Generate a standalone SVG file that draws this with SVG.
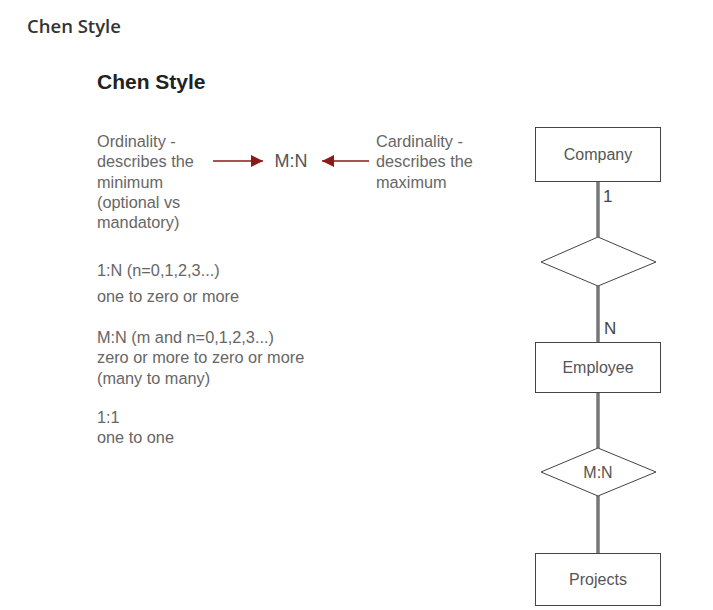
<svg xmlns="http://www.w3.org/2000/svg" width="713" height="610" viewBox="0 0 713 610">
<defs>
<style>
.t{font-family:"Liberation Sans",Arial,sans-serif;font-size:16.3px;fill:#666}
.n{font-family:"Liberation Sans",Arial,sans-serif;font-size:16px;fill:#555;text-anchor:middle;dominant-baseline:central}
.box{fill:#fff;stroke:#444;stroke-width:1}
.conn{stroke:#777;stroke-width:3.5;fill:none}
.arr{stroke:#8b1a1a;stroke-width:1.5;fill:none}
</style>
<marker id="ah" viewBox="0 0 10 10" refX="10" refY="5" markerWidth="18" markerHeight="12" markerUnits="userSpaceOnUse" orient="auto">
<path d="M0,0 L10,5 L0,10 z" fill="#8b1a1a"/>
</marker>
</defs>
<rect width="713" height="610" fill="#fff"/>
<text x="27" y="33" font-family="'Open Sans',sans-serif" font-weight="600" font-size="18.5" fill="#333">Chen Style</text>
<text x="97" y="89" font-family="'Liberation Sans',Arial,sans-serif" font-weight="bold" font-size="21" fill="#222">Chen Style</text>

<g id="notes">
<text class="t" x="97" y="147">Ordinality -</text>
<text class="t" x="97" y="167">describes the</text>
<text class="t" x="97" y="188">minimum</text>
<text class="t" x="97" y="208">(optional vs</text>
<text class="t" x="97" y="228">mandatory)</text>
<text class="t" x="376" y="147">Cardinality -</text>
<text class="t" x="376" y="167">describes the</text>
<text class="t" x="376" y="188">maximum</text>
<text class="t" x="97" y="276">1:N (n=0,1,2,3...)</text>
<text class="t" x="97" y="302">one to zero or more</text>
<text class="t" x="97" y="343">M:N (m and n=0,1,2,3...)</text>
<text class="t" x="97" y="363">zero or more to zero or more</text>
<text class="t" x="97" y="384">(many to many)</text>
<text class="t" x="97" y="423">1:1</text>
<text class="t" x="97" y="443">one to one</text>
<text class="n" x="291" y="161" style="font-size:18px">M:N</text>
</g>

<g id="connectors">
<line class="arr" x1="213" y1="161" x2="263" y2="161" marker-end="url(#ah)"/>
<line class="arr" x1="369" y1="161" x2="322" y2="161" marker-end="url(#ah)"/>
<line class="conn" x1="598" y1="181" x2="598" y2="237"/>
<line class="conn" x1="598" y1="286" x2="598" y2="342"/>
<line class="conn" x1="598" y1="392" x2="598" y2="448"/>
<line class="conn" x1="598" y1="496" x2="598" y2="553"/>
<text class="t" x="603" y="202" style="fill:#444;font-size:17px">1</text>
<text class="t" x="604" y="334" style="fill:#444;font-size:17px">N</text>
</g>

<g id="company">
<rect class="box" x="535.5" y="127.5" width="125" height="54"/>
<text class="n" x="598" y="154">Company</text>
</g>
<g id="rel1">
<polygon class="box" points="598,237 656,262 598,286 541,262"/>
</g>
<g id="employee">
<rect class="box" x="535.5" y="342.5" width="125" height="50"/>
<text class="n" x="598" y="367">Employee</text>
</g>
<g id="rel2">
<polygon class="box" points="598,448 656,472 598,496 541,472"/>
<text class="n" x="598" y="472">M:N</text>
</g>
<g id="projects">
<rect class="box" x="535.5" y="553.5" width="125" height="52"/>
<text class="n" x="598" y="579">Projects</text>
</g>
</svg>
